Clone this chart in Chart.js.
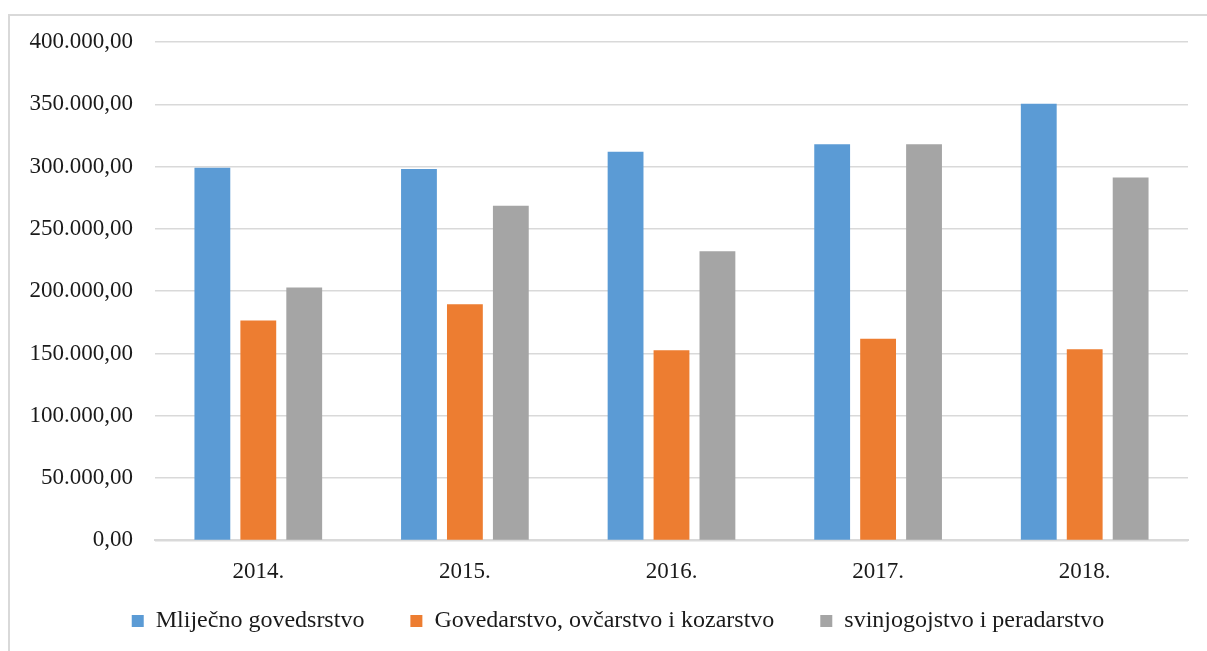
<!DOCTYPE html>
<html>
<head>
<meta charset="utf-8">
<script src="https://cdn.jsdelivr.net/npm/chart.js@4.4.1/dist/chart.umd.min.js"></script>
<style>
  html, body { margin: 0; padding: 0; background: #fff; }
  #wrap { position: relative; width: 1207px; height: 651px; overflow: hidden; }
  #frame {
    position: absolute; left: 8px; top: 14px; right: -4px; bottom: -4px;
    border-left: 2px solid #d9d9d9; border-top: 2px solid #d9d9d9;
  }
  canvas { position: absolute; left: 0; top: 0; }
</style>
</head>
<body>
<div id="wrap">
  <div id="frame"></div>
  <canvas id="chart" width="1207" height="651"></canvas>
</div>
<script>
const years         = ['2014.', '2015.', '2016.', '2017.', '2018.'];
const seriesNames   = ['Mliječno govedsrstvo', 'Govedarstvo, ovčarstvo i kozarstvo', 'svinjogojstvo i peradarstvo'];
const mlijecno      = [299000, 298000, 312000, 318000, 350500];
const govedarstvo   = [176500, 189500, 152700, 161800, 153500];
const svinjogojstvo = [203000, 268500, 232000, 318000, 291200];
const yMax  = 400000;
const yStep = 50000;

const colors = ['#5b9bd5', '#ed7d31', '#a5a5a5'];
const FONT = 'Liberation Serif, Times New Roman, serif';
const FONT_SIZE = 23;

// 400000 -> "400.000,00"
function formatHr(value) {
  const parts = Math.round(value).toString().replace(/\B(?=(\d{3})+(?!\d))/g, '.');
  return parts + ',00';
}

const PAD_LEFT = 8;

// legenda ispod osi, na mjestu kao u Excelu (clip podrucje mora obuhvatiti tekst)
const legendPlace = {
  id: 'legendPlace',
  afterLayout(chart) {
    const lg = chart.legend;
    const dx = 20;
    lg.top = 563;
    lg.bottom = 651;
    lg.height = lg.bottom - lg.top;
    lg.left += dx; lg.right += dx;
  },
};

new Chart(document.getElementById('chart'), {
  type: 'bar',
  data: {
    labels: years,
    datasets: [mlijecno, govedarstvo, svinjogojstvo].map((data, i) => ({
      label: seriesNames[i],
      data,
      backgroundColor: colors[i],
      borderWidth: 0,
      barPercentage: 0.78,
      categoryPercentage: 0.667,
    })),
  },
  options: {
    responsive: false,
    animation: false,
    layout: {
      padding: { left: PAD_LEFT, right: 19, top: 42, bottom: 15 },
    },
    scales: {
      x: {
        grid: { display: false },
        border: { color: '#d9d9d9', width: 2 },
        ticks: {
          color: '#1a1a1a',
          font: { family: FONT, size: FONT_SIZE },
          padding: 10,
        },
      },
      y: {
        min: 0,
        max: yMax,
        border: { display: false },
        grid: { color: '#d9d9d9', lineWidth: 1.5, drawTicks: false },
        ticks: {
          stepSize: yStep,
          color: '#1a1a1a',
          font: { family: FONT, size: FONT_SIZE },
          padding: 22,
          callback: v => formatHr(v),
        },
        afterFit: scale => { scale.width = 155 - PAD_LEFT; },
      },
    },
    plugins: {
      tooltip: { enabled: false },
      legend: {
        position: 'bottom',
        maxHeight: 40,
        labels: {
          color: '#1a1a1a',
          font: { family: FONT, size: 24 },
          boxWidth: 12,
          boxHeight: 12,
          padding: 46,
        },
      },
    },
  },
  plugins: [legendPlace],
});
</script>
</body>
</html>
